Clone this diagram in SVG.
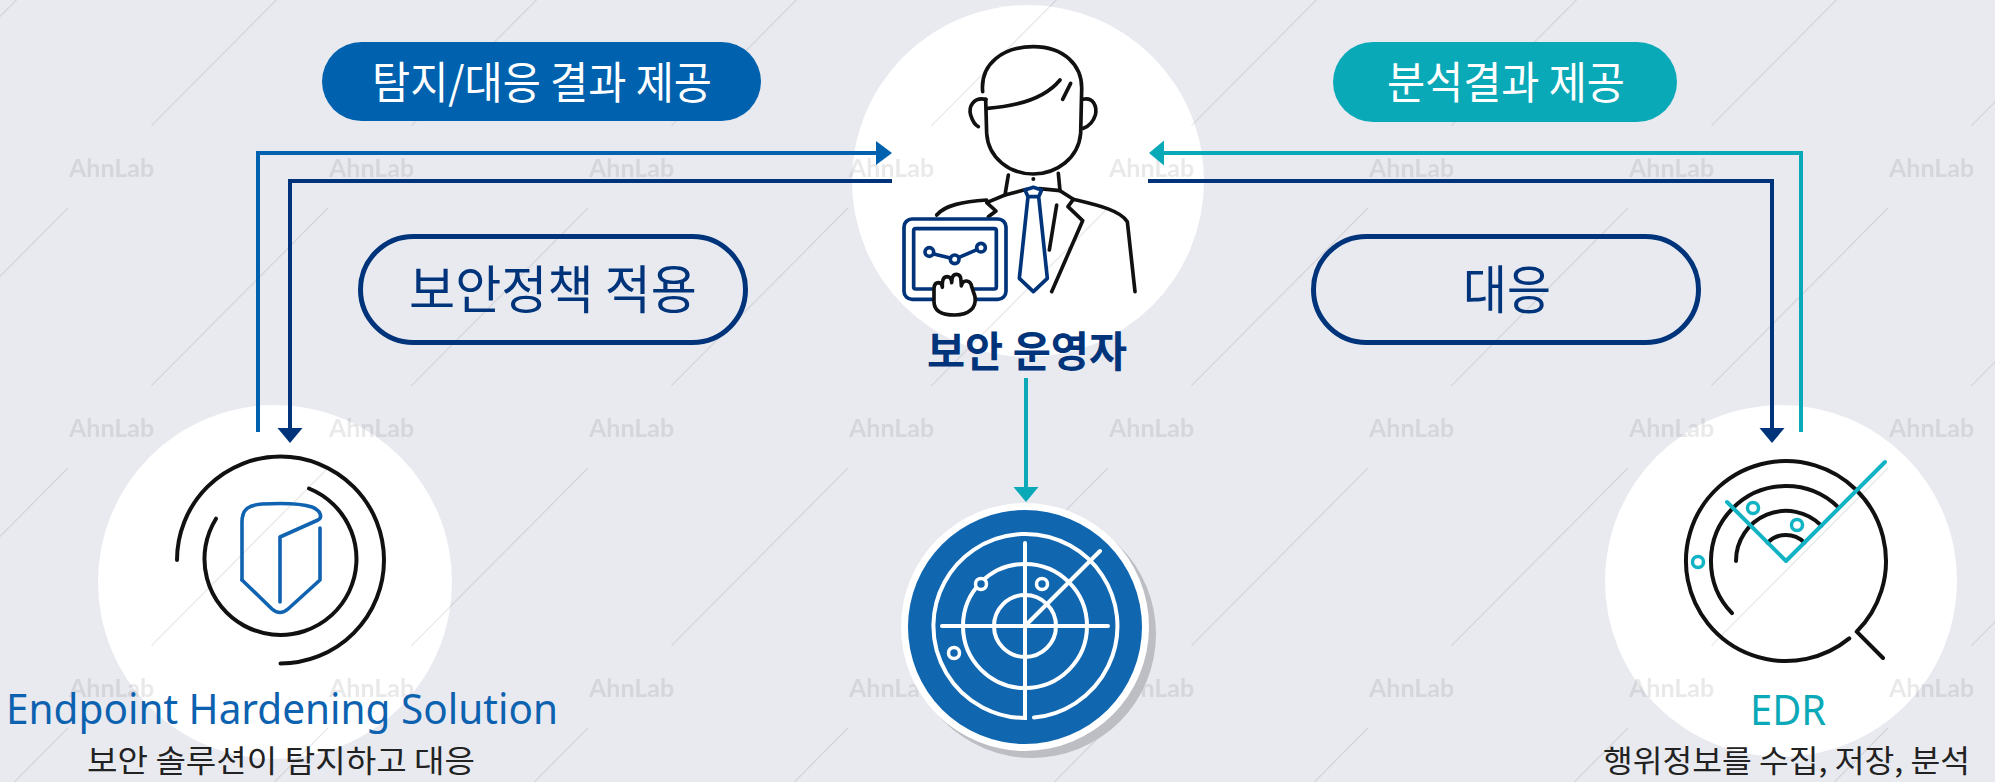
<svg xmlns="http://www.w3.org/2000/svg" width="1995" height="782" viewBox="0 0 1995 782">
  <defs>
    <style>
      .kr { font-family: "Noto Sans CJK KR", "Noto Sans", sans-serif; }
      .en { font-family: "Noto Sans", "Liberation Sans", sans-serif; }
      .ink { fill: none; stroke: #111; stroke-width: 4; stroke-linecap: round; stroke-linejoin: round; }
      .ink-blue { fill: none; stroke: #0f63b0; stroke-width: 3.6; stroke-linecap: round; stroke-linejoin: round; }
      .ink-teal { fill: none; stroke: #12b3c4; stroke-width: 4; stroke-linecap: round; stroke-linejoin: round; }
      .radar { fill: none; stroke: #fff; stroke-width: 4; stroke-linecap: round; }
      .wire { fill: none; stroke-width: 4; stroke-linejoin: miter; }
      .pill-label { fill: #fff; font-size: 44px; }
      .outline-pill { fill: none; stroke: #00347a; stroke-width: 5; }
      .outline-label { fill: #00347a; font-size: 52px; }
      .caption { fill: #222; font-size: 31px; }
    </style>
    <!-- faint watermark tile: brand text plus a diagonal hairline -->
    <pattern id="wm" x="0" y="0" width="260" height="260" patternUnits="userSpaceOnUse">
      <text x="69" y="177" font-family="Lato, 'Liberation Sans', sans-serif" font-weight="700" font-size="25" fill="#000" fill-opacity="0.085">AhnLab</text>
      <g stroke="#000" stroke-opacity="0.09" stroke-width="1.2">
        <line x1="151.5" y1="125.7" x2="328" y2="-52"/>
        <line x1="-108.5" y1="125.7" x2="68" y2="-52"/>
        <line x1="151.5" y1="385.7" x2="328" y2="208"/>
        <line x1="-108.5" y1="385.7" x2="68" y2="208"/>
      </g>
    </pattern>
    <marker id="ah-blue" markerUnits="userSpaceOnUse" markerWidth="18" markerHeight="26" refX="0" refY="12" orient="auto" overflow="visible">
      <path d="M0 0 L16 12 L0 24 Z" fill="#0062ae"/>
    </marker>
    <marker id="ah-navy" markerUnits="userSpaceOnUse" markerWidth="18" markerHeight="26" refX="0" refY="12.5" orient="auto" overflow="visible">
      <path d="M0 0 L15 12.5 L0 25 Z" fill="#00347a"/>
    </marker>
    <marker id="ah-teal" markerUnits="userSpaceOnUse" markerWidth="18" markerHeight="26" refX="0" refY="12.5" orient="auto" overflow="visible">
      <path d="M0 0 L15 12.5 L0 25 Z" fill="#0aa9b8"/>
    </marker>
  </defs>

  <!-- backdrop -->
  <rect x="0" y="0" width="1995" height="782" fill="#e9eaf0"/>

  <!-- white discs behind the three main nodes -->
  <g id="discs" fill="#fff">
    <circle cx="1028" cy="181" r="176"/>
    <circle cx="275" cy="582" r="177"/>
    <circle cx="1781" cy="581" r="176"/>
  </g>

  <!-- watermark overlay -->
  <rect x="0" y="0" width="1995" height="782" fill="url(#wm)"/>

  <!-- connectors -->
  <g id="connectors">
    <path class="wire" stroke="#0062ae" d="M258 432 V153 H876" marker-end="url(#ah-blue)"/>
    <path class="wire" stroke="#00347a" d="M892 181 H290 V428" marker-end="url(#ah-navy)"/>
    <path class="wire" stroke="#0aa9b8" d="M1801 432 V153 H1164" marker-end="url(#ah-teal)"/>
    <path class="wire" stroke="#00347a" d="M1148 181 H1772 V428" marker-end="url(#ah-navy)"/>
    <path class="wire" stroke="#0aa9b8" d="M1026 378 V487" marker-end="url(#ah-teal)"/>
  </g>

  <!-- flow labels -->
  <g id="label-detect-result">
    <rect x="322" y="42" width="439" height="79" rx="39.5" fill="#0062ae"/>
    <text class="kr pill-label" x="372" y="99" textLength="340" lengthAdjust="spacingAndGlyphs">탐지/대응 결과 제공</text>
  </g>
  <g id="label-analysis-result">
    <rect x="1333" y="42" width="344" height="80" rx="40" fill="#0aa9b8"/>
    <text class="kr pill-label" x="1387" y="99" textLength="238" lengthAdjust="spacingAndGlyphs">분석결과 제공</text>
  </g>
  <g id="label-policy">
    <rect class="outline-pill" x="360.5" y="236.5" width="385" height="106" rx="53"/>
    <text class="kr outline-label" x="409" y="309" textLength="288" lengthAdjust="spacingAndGlyphs">보안정책 적용</text>
  </g>
  <g id="label-response">
    <rect class="outline-pill" x="1313.5" y="236.5" width="385" height="106" rx="53"/>
    <text class="kr outline-label" x="1463" y="309" textLength="88" lengthAdjust="spacingAndGlyphs">대응</text>
  </g>

  <!-- security operator -->
  <g id="node-operator">
    <g transform="translate(840 0) scale(0.33333)" fill="none" stroke-linecap="round" stroke-linejoin="round">
      <g stroke="#111" stroke-width="11">
        <path d="M428 275 C420 190 490 140 580 140 C670 140 728 195 725 270 L722 400 C715 475 650 522 580 522 C510 522 445 475 440 400 L437 298"/>
        <path d="M442 325 C540 318 615 295 660 240"/>
        <path d="M692 250 L668 298"/>
        <path d="M438 298 C400 290 385 320 392 345 C398 365 405 375 415 380"/>
        <path d="M728 298 C760 290 772 320 766 345 C760 365 748 378 730 385"/>
        <path d="M505 525 L495 585 L560 568"/>
        <path d="M495 585 L440 608 L468 633 L445 650"/>
        <path d="M290 645 C315 615 370 605 440 600"/>
        <path d="M655 520 L660 572 L598 566"/>
        <path d="M660 572 L700 598 L684 620 L728 662 L635 875"/>
        <path d="M650 615 L628 750"/>
        <path d="M700 598 C770 615 840 630 862 665 L885 875"/>
      </g>
      <circle cx="580" cy="537" r="6" fill="#111"/>
      <!-- tie -->
      <path d="M555 570 L580 562 L605 570 L596 590 L564 590 Z M564 590 L538 835 L580 875 L622 835 L596 590" stroke="#00347a" stroke-width="11" fill="#fff"/>
      <!-- tablet -->
      <g stroke="#00347a" stroke-width="11">
        <rect x="192" y="657" width="306" height="241" rx="24" fill="#fff"/>
        <rect x="221" y="686" width="248" height="181" rx="6"/>
        <circle cx="268" cy="756" r="13"/>
        <circle cx="344" cy="778" r="13"/>
        <circle cx="423" cy="743" r="13"/>
        <path d="M281 762 L331 774 M357 772 L411 749"/>
      </g>
      <!-- hand -->
      <path d="M282 905 L282 865 Q283 848 296 848 Q307 849 307 862 L307 850 Q308 830 322 830 Q335 831 335 848 L336 838 Q338 822 350 823 Q363 824 363 842 L364 858 Q367 842 380 843 Q393 845 395 860 L405 890 C410 925 385 945 345 945 C300 945 282 930 282 905 Z" fill="#fff" stroke="#111" stroke-width="11"/>
    </g>
    <text class="kr" x="927" y="367" font-size="42" font-weight="700" fill="#00347a" textLength="200" lengthAdjust="spacingAndGlyphs">보안 운영자</text>
  </g>

  <!-- endpoint hardening solution -->
  <g id="node-ehs">
    <path class="ink" d="M177 560 A103.5 103.5 0 1 1 280.5 663.5"/>
    <path class="ink" d="M309 488.5 A76 76 0 1 1 216 518.7"/>
    <path class="ink-blue" d="M242 580 V522 C242 508 250 505 262 504 C280 503 300 503 312 507 C322 511 322 518 318 520 L280 537 V602"/>
    <path class="ink-blue" d="M320 528 V580 L288 609 Q280 616 272 609 L242 580"/>
    <text class="en" x="6" y="724" font-size="41" fill="#0d62b0" textLength="552" lengthAdjust="spacingAndGlyphs">Endpoint Hardening Solution</text>
    <text class="kr caption" x="87" y="772" textLength="388" lengthAdjust="spacingAndGlyphs">보안 솔루션이 탐지하고 대응</text>
  </g>

  <!-- monitoring radar -->
  <g id="node-radar">
    <circle cx="1032" cy="634" r="124" fill="#bdbec4"/>
    <circle cx="1025" cy="627" r="124" fill="#fff"/>
    <circle cx="1025" cy="627" r="117" fill="#1166b0"/>
    <path class="radar" d="M1025 543 V718 A92 92 0 1 1 1034 717.6"/>
    <circle class="radar" cx="1025" cy="626" r="62"/>
    <circle class="radar" cx="1025" cy="626" r="31"/>
    <path class="radar" d="M942 626 H1108 M1025 626 L1100 551"/>
    <g fill="#1166b0" stroke="#fff" stroke-width="3.5">
      <circle cx="981" cy="584" r="5.5"/>
      <circle cx="1042" cy="584" r="5.5"/>
      <circle cx="954" cy="653" r="5.5"/>
    </g>
  </g>

  <!-- endpoint detection and response -->
  <g id="node-edr">
    <path class="ink" d="M1849.3 638.4 A100 100 0 1 1 1856.7 631.7 L1883 658"/>
    <path class="ink" d="M1732 613.1 A75 75 0 0 1 1838.1 507.1"/>
    <path class="ink" d="M1736 561 A50 50 0 0 1 1821.4 525.6"/>
    <path class="ink" d="M1767.6 542.6 A26 26 0 0 1 1804.4 542.6"/>
    <path class="ink-teal" d="M1727 502 L1786 561 L1885 462"/>
    <g fill="#fff" stroke="#12b3c4" stroke-width="3.5">
      <circle cx="1753" cy="508" r="5.5"/>
      <circle cx="1797" cy="525" r="5.5"/>
      <circle cx="1698" cy="562" r="5.5"/>
    </g>
    <text class="en" x="1750" y="725" font-size="42" fill="#0aa9b8" textLength="76" lengthAdjust="spacingAndGlyphs">EDR</text>
    <text class="kr caption" x="1603" y="772" textLength="367" lengthAdjust="spacingAndGlyphs">행위정보를 수집, 저장, 분석</text>
  </g>
</svg>
